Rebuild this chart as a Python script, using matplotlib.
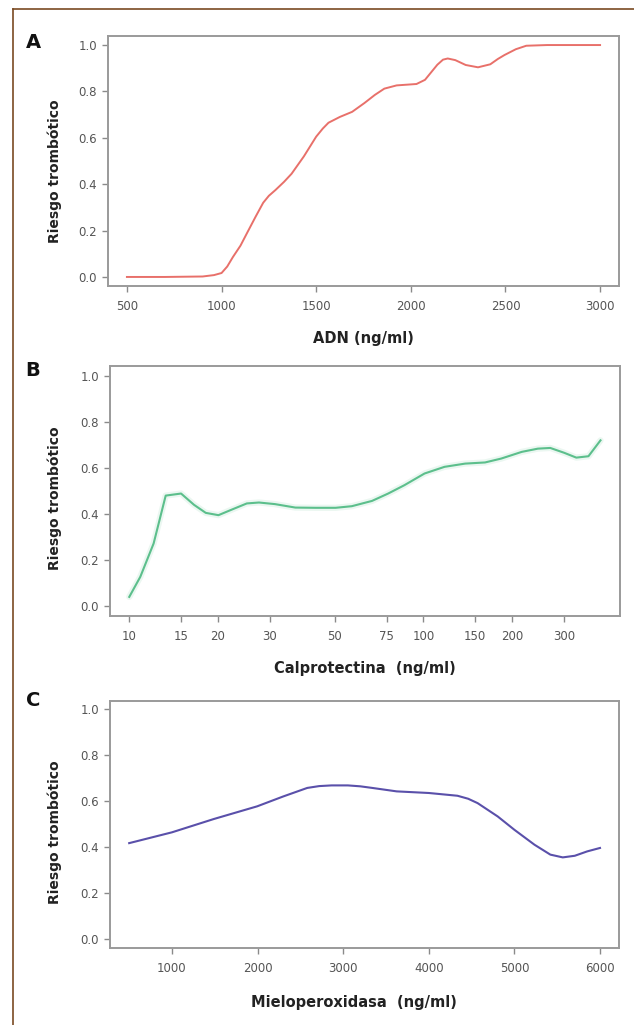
import matplotlib.pyplot as plt
from matplotlib.lines import Line2D
from matplotlib.ticker import FixedLocator, NullLocator

plt.rcParams['font.family'] = ['DejaVu Sans']

# panel A - ADN
adn_x = [500, 700, 900, 960, 1000, 1030, 1060, 1100, 1135, 1180, 1220, 1250,
         1285, 1330, 1370, 1435, 1500, 1535, 1565, 1625, 1690, 1755, 1810,
         1860, 1925, 2030, 2075, 2110, 2140, 2170, 2195, 2235, 2290, 2355,
         2420, 2460, 2495, 2555, 2610, 2720, 3000]
adn_y = [0.0, 0.0, 0.002, 0.008, 0.017, 0.045, 0.086, 0.135, 0.19, 0.26,
         0.32, 0.35, 0.375, 0.41, 0.445, 0.52, 0.605, 0.64, 0.665, 0.69,
         0.712, 0.75, 0.785, 0.812, 0.826, 0.832, 0.85, 0.885, 0.915, 0.937,
         0.942, 0.935, 0.914, 0.904, 0.917, 0.94, 0.957, 0.982, 0.997, 1.0,
         1.0]

# panel B - calprotectina (log axis)
cal_x = [10, 10.9, 12.1, 13.3, 15, 16.6, 18.2, 20.1, 22.1, 25.1, 27.6, 31.3,
         36.7, 43, 50.3, 57.1, 66.9, 75.9, 86.1, 100.9, 118, 138.6, 162, 184,
         216, 245, 270, 301, 331, 364, 400]
cal_y = [0.04, 0.127, 0.272, 0.48, 0.489, 0.44, 0.405, 0.395, 0.417, 0.446,
         0.45, 0.443, 0.428, 0.427, 0.427, 0.434, 0.457, 0.489, 0.525, 0.576,
         0.605, 0.619, 0.624, 0.641, 0.67, 0.684, 0.687, 0.666, 0.645, 0.651,
         0.72]
cal_ticks = [10, 15, 20, 30, 50, 75, 100, 150, 200, 300]

# panel C - mieloperoxidasa
mpo_x = [500, 1000, 1490, 1995, 2300, 2580, 2720, 2865, 3055, 3200, 3340,
         3625, 4000, 4335, 4460, 4570, 4805, 5000, 5235, 5420, 5565, 5705,
         5850, 6000]
mpo_y = [0.417, 0.464, 0.522, 0.577, 0.62, 0.657, 0.665, 0.668, 0.668, 0.664,
         0.657, 0.642, 0.635, 0.623, 0.61, 0.591, 0.533, 0.475, 0.41, 0.367,
         0.355, 0.362, 0.381, 0.396]

yticks = [0.0, 0.2, 0.4, 0.6, 0.8, 1.0]

fig = plt.figure(figsize=(6.34, 10.25), dpi=100)
W, H = 634.0, 1025.0

def axes_px(l, t, r, b):
    return fig.add_axes([l / W, 1 - b / H, (r - l) / W, (b - t) / H])

def style(ax):
    for s in ax.spines.values():
        s.set_color('#9a9a9a')
        s.set_linewidth(1.4)
    ax.tick_params(colors='#8a8a8a', labelcolor='#555555', labelsize=8.5,
                   length=4, width=1.0, pad=4)
    ax.tick_params(axis='x', pad=6)
    ax.set_yticks(yticks)
    ax.set_yticklabels(['%.1f' % v for v in yticks])
    ax.set_ylabel('Riesgo trombótico', fontsize=10, fontweight='bold',
                  color='#222222')

lab = dict(fontsize=10.5, fontweight='bold', color='#222222')

axA = axes_px(108, 36, 619, 286)
axA.plot(adn_x, adn_y, color='#e8706a', lw=1.4)
axA.set_xlim(400, 3100)
axA.set_ylim(-0.039, 1.039)
axA.set_xticks([500, 1000, 1500, 2000, 2500, 3000])
style(axA)
axA.set_xlabel('ADN (ng/ml)', **lab)
axA.xaxis.set_label_coords(0.5, -0.18)
axA.yaxis.set_label_coords(-0.09, 0.46)

axB = axes_px(110, 366, 620, 616)
axB.plot(cal_x, cal_y, color='#5cbf8c', lw=4.5, alpha=0.12, solid_capstyle='round')
axB.plot(cal_x, cal_y, color='#5cbf8c', lw=1.5)
axB.set_xscale('log')
axB.set_xlim(8.6, 466)
axB.set_ylim(-0.043, 1.043)
axB.xaxis.set_major_locator(FixedLocator(cal_ticks))
axB.xaxis.set_minor_locator(NullLocator())
axB.set_xticklabels([str(v) for v in cal_ticks])
style(axB)
axB.set_xlabel('Calprotectina  (ng/ml)', **lab)
axB.xaxis.set_label_coords(0.5, -0.18)
axB.yaxis.set_label_coords(-0.094, 0.47)

axC = axes_px(110, 701, 619, 948)
axC.plot(mpo_x, mpo_y, color='#5a50aa', lw=1.5)
axC.set_xlim(276, 6222)
axC.set_ylim(-0.039, 1.035)
axC.set_xticks([1000, 2000, 3000, 4000, 5000, 6000])
style(axC)
axC.set_xlabel('Mieloperoxidasa  (ng/ml)', **lab)
axC.xaxis.set_label_coords(0.48, -0.19)
axC.yaxis.set_label_coords(-0.094, 0.47)

for letter, y in [('A', 42), ('B', 370), ('C', 701)]:
    fig.text(33 / W, 1 - y / H, letter, fontsize=14, fontweight='bold',
             ha='center', va='center', color='#111111')

# brown frame on the top and left side
fig.add_artist(Line2D([13 / W, 1.0], [1 - 9 / H, 1 - 9 / H],
                      transform=fig.transFigure, color='#7a4a22', lw=1.2))
fig.add_artist(Line2D([13 / W, 13 / W], [0.0, 1 - 9 / H],
                      transform=fig.transFigure, color='#7a4a22', lw=1.2))

fig.savefig('out.png', dpi=100, facecolor='white')
